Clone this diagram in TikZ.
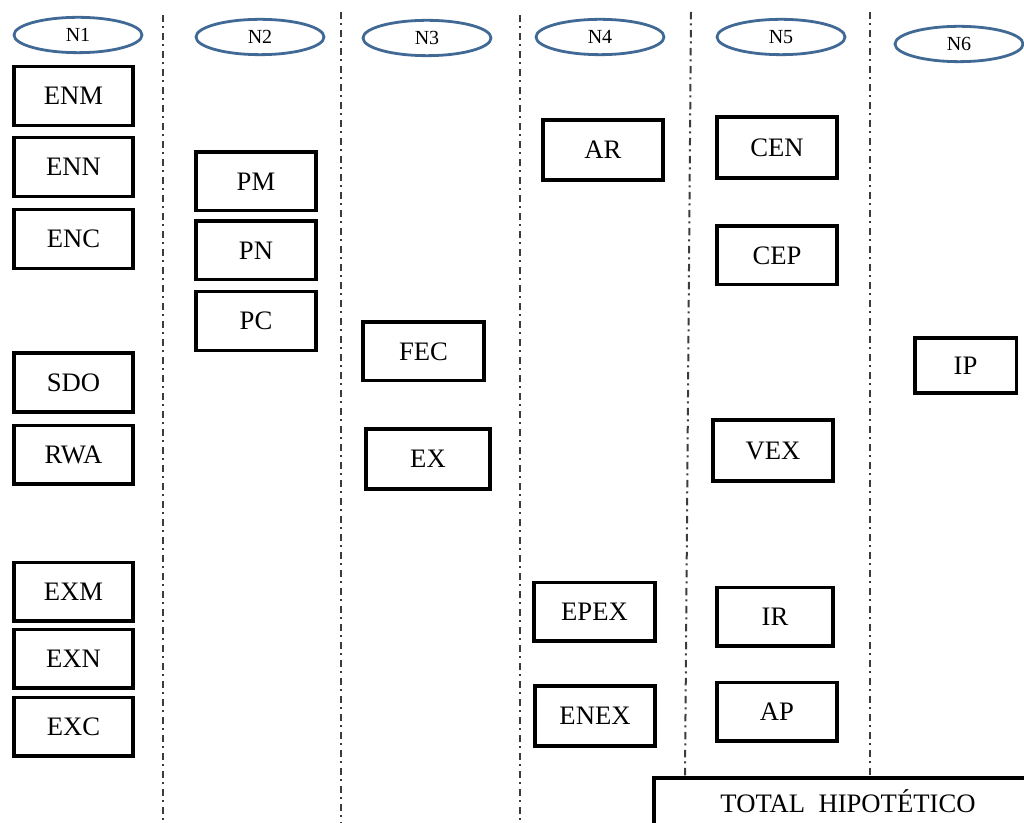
\documentclass[tikz,border=0pt]{standalone}
\usepackage{fontspec}
\setmainfont{Liberation Serif}
\usetikzlibrary{shapes.geometric}
\definecolor{ellblue}{RGB}{65,105,150}
\definecolor{sepgray}{RGB}{60,60,60}
\begin{document}
\begin{tikzpicture}[x=0.75pt,y=-0.75pt,
  box/.style={draw=black,line width=2.5pt,inner sep=0pt,minimum width=89.25pt,minimum height=44pt,
    font=\fontsize{20}{24}\selectfont},
  lvl/.style={draw=ellblue,line width=2.1pt,ellipse,inner sep=0pt,minimum width=96pt,minimum height=26.5pt,
    font=\fontsize{15}{18}\selectfont},
  sep/.style={draw=sepgray,line width=1.5pt,dash pattern=on 5.5pt off 3pt on 1.5pt off 3.5pt}]
\useasboundingbox (0,0) rectangle (1024,823);
% separators
\coordinate (s1a) at (163,15);  \coordinate (s1b) at (163,823);
\coordinate (s2a) at (341,12);  \coordinate (s2b) at (341,823);
\coordinate (s3a) at (520,15);  \coordinate (s3b) at (520,823);
\coordinate (s4a) at (691,12);  \coordinate (s4b) at (685,778);
\coordinate (s5a) at (870,12);  \coordinate (s5b) at (870,778);
\draw[sep] (s1a) -- (s1b);
\draw[sep] (s2a) -- (s2b);
\draw[sep] (s3a) -- (s3b);
\draw[sep] (s4a) -- (s4b);
\draw[sep] (s5a) -- (s5b);
% level ellipses
\node[lvl] (n1) at (78,35) {N1};
\node[lvl] (n2) at (260,37) {N2};
\node[lvl] (n3) at (427,38) {N3};
\node[lvl] (n4) at (600,37) {N4};
\node[lvl] (n5) at (781,37) {N5};
\node[lvl] (n6) at (959,44) {N6};
% column 1
\node[box] (enm) at (73.5,96) {ENM};
\node[box] (enn) at (73.5,167) {ENN};
\node[box] (enc) at (73.5,239) {ENC};
\node[box] (sdo) at (73.5,382.5) {SDO};
\node[box] (rwa) at (73.5,454.5) {RWA};
\node[box] (exm) at (73.5,591.5) {EXM};
\node[box] (exn) at (73.5,658.5) {EXN};
\node[box] (exc) at (73.5,726.5) {EXC};
% column 2
\node[box,minimum width=90pt] (pm) at (256,181.5) {PM};
\node[box,minimum width=90pt] (pn) at (256,250.5) {PN};
\node[box,minimum width=90pt] (pc) at (256,321) {PC};
% column 3
\node[box,minimum width=90.75pt] (fec) at (423.5,351.5) {FEC};
\node[box,minimum width=93pt,minimum height=45pt] (ex) at (428,459) {EX};
% column 4
\node[box,minimum width=90pt,minimum height=45pt] (ar) at (603,150) {AR};
\node[box,minimum width=90.75pt] (epex) at (594.5,611.5) {EPEX};
\node[box,minimum width=90pt,minimum height=45pt] (enex) at (595,716) {ENEX};
% column 5
\node[box,minimum width=90pt,minimum height=45.75pt] (cen) at (777,147.5) {CEN};
\node[box,minimum width=90pt] (cep) at (777,255.5) {CEP};
\node[box,minimum width=90pt,minimum height=45.75pt] (vex) at (773,450.5) {VEX};
\node[box,minimum width=87pt] (ir) at (775,616.5) {IR};
\node[box,minimum width=90pt] (ap) at (777,711.5) {AP};
% column 6
\node[box,minimum width=76pt,minimum height=41pt] (ip) at (965.5,365.5) {IP};
% total
\draw[line width=2.5pt] (1040,778) -- (654,778) -- (654,840);
\node[inner sep=0pt,font=\fontsize{20}{24}\selectfont,anchor=base] (total) at (848,812) {TOTAL\ \ HIPOTÉTICO};
\end{tikzpicture}
\end{document}
